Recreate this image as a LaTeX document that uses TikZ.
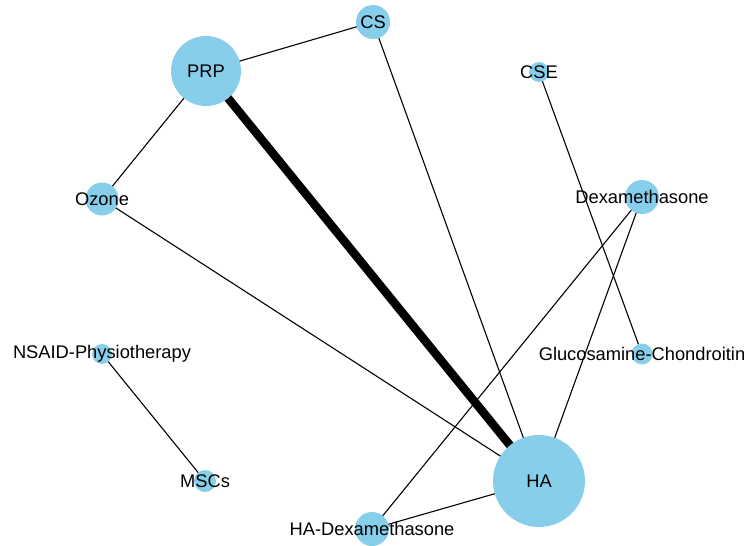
\documentclass[tikz,border=0pt]{standalone}
\usepackage{fontspec}
\setmainfont{Liberation Sans}
\usetikzlibrary{backgrounds}
\definecolor{skyblue}{HTML}{87CEEB}

\tikzset{
    drug/.style={circle, fill=skyblue, inner sep=0pt, minimum size=#1},
    link/.style={line width=1.1bp},
    heavy/.style={line width=8.5bp}
}

\begin{document}
\begin{tikzpicture}[x=1bp, y=-1bp, font=\fontsize{18.3bp}{21bp}\selectfont]
    \useasboundingbox (0,0) rectangle (747,546);
    \node[drug=34bp, label={center:CS}] (cs) at (373,22) {};
    \node[drug=70bp, label={center:PRP}] (prp) at (206,71) {};
    \node[drug=20bp, label={center:CSE}] (cse) at (539,72) {};
    \node[drug=33bp, label={center:Ozone}] (ozone) at (102,199) {};
    \node[drug=34bp, label={center:Dexamethasone}] (dexa) at (642,197) {};
    \node[drug=20bp, label={center:NSAID-Physiotherapy}] (nsaid) at (102,354) {};
    \node[drug=21bp, label={center:Glucosamine-Chondroitin}] (gluco) at (642,354) {};
    \node[drug=22bp, label={center:MSCs}] (mscs) at (205,481) {};
    \node[drug=92bp, label={center:HA}] (ha) at (539,481) {};
    \node[drug=34bp, label={center:HA-Dexamethasone}] (hadexa) at (372,529) {};

    \begin{scope}[on background layer]
    \draw[link] (prp.center) -- (cs.center);
    \draw[link] (prp.center) -- (ozone.center);
    \draw[heavy] (prp.center) -- (ha.center);
    \draw[link] (cs.center) -- (ha.center);
    \draw[link] (ozone.center) -- (ha.center);
    \draw[link] (cse.center) -- (gluco.center);
    \draw[link] (dexa.center) -- (ha.center);
    \draw[link] (dexa.center) -- (hadexa.center);
    \draw[link] (nsaid.center) -- (mscs.center);
    \draw[link] (ha.center) -- (hadexa.center);
    \end{scope}
\end{tikzpicture}
\end{document}
